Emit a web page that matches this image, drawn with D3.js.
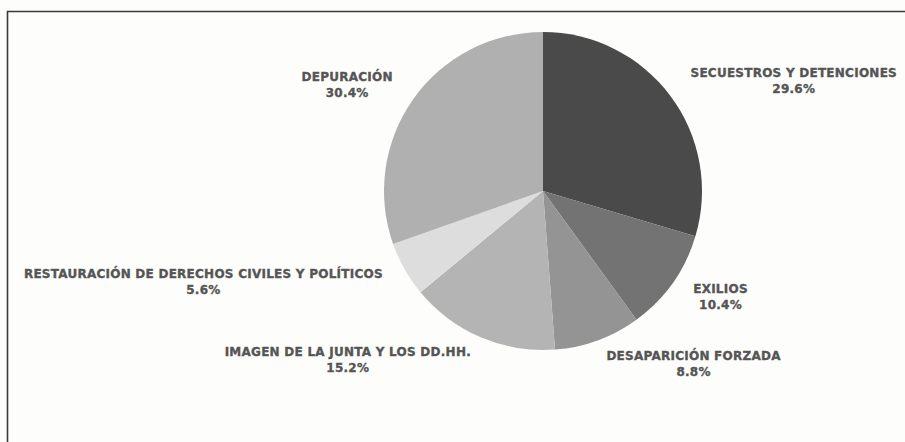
<!DOCTYPE html>
<html><head><meta charset="utf-8">
<script src="https://cdn.jsdelivr.net/npm/d3@7"></script>
<style>
html,body{margin:0;padding:0;background:#fdfdfb;}
svg{display:block;}
</style></head>
<body>
<script>
const categories = ["SECUESTROS Y DETENCIONES","EXILIOS","DESAPARICIÓN FORZADA","IMAGEN DE LA JUNTA Y LOS DD.HH.","RESTAURACIÓN DE DERECHOS CIVILES Y POLÍTICOS","DEPURACIÓN"];
const values = [29.6, 10.4, 8.8, 15.2, 5.6, 30.4];
const colors = ["#4a4a4a","#737373","#949494","#b4b4b4","#dddddd","#b0b0b0"];

const W = 905, H = 442;
const cx = 543, cy = 191, R = 159, LR = 184;

const svg = d3.select("body").append("svg").attr("width", W).attr("height", H);
svg.append("rect").attr("width", W).attr("height", H).attr("fill", "#fdfdfb");
svg.append("path").attr("d", `M7.5,${H} V11.5 H${W}`).attr("fill","none").attr("stroke","#3a3a3a").attr("stroke-width",1.6);

const data = categories.map((c,i)=>({cat:c, value:values[i], color:colors[i]}));
const pie = d3.pie().value(d=>d.value).sort(null);
const arcs = pie(data);
const arc = d3.arc().innerRadius(0).outerRadius(R);

const g = svg.append("g").attr("transform", `translate(${cx},${cy})`);
g.selectAll("path.slice").data(arcs).join("path")
  .attr("class","slice")
  .attr("d", arc)
  .attr("fill", d=>d.data.color);

const fmt = v => v.toFixed(1) + "%";
function styleText(t){
  t.attr("font-family","'DejaVu Sans', sans-serif").attr("font-weight","bold")
   .attr("font-size","12px").attr("letter-spacing","0.25px")
   .attr("fill","#555555").attr("stroke","#555555").attr("stroke-width",0.35)
   .attr("text-anchor","middle");
}
g.selectAll("g.lab").data(arcs).join("g").attr("class","lab")
  .each(function(d){
    const a = (d.startAngle + d.endAngle)/2;
    const x = LR*Math.sin(a), y = -LR*Math.cos(a);
    const sel = d3.select(this);
    const t1 = sel.append("text").text(d.data.cat).call(styleText);
    const w = t1.node().getComputedTextLength();
    const right = Math.sin(a) >= 0;
    const bx = right ? x + w/2 : x - w/2;
    t1.attr("x", bx).attr("y", y - 4);
    sel.append("text").text(fmt(d.data.value)).call(styleText)
      .attr("x", bx).attr("y", y + 12);
  });
</script>
</body></html>
